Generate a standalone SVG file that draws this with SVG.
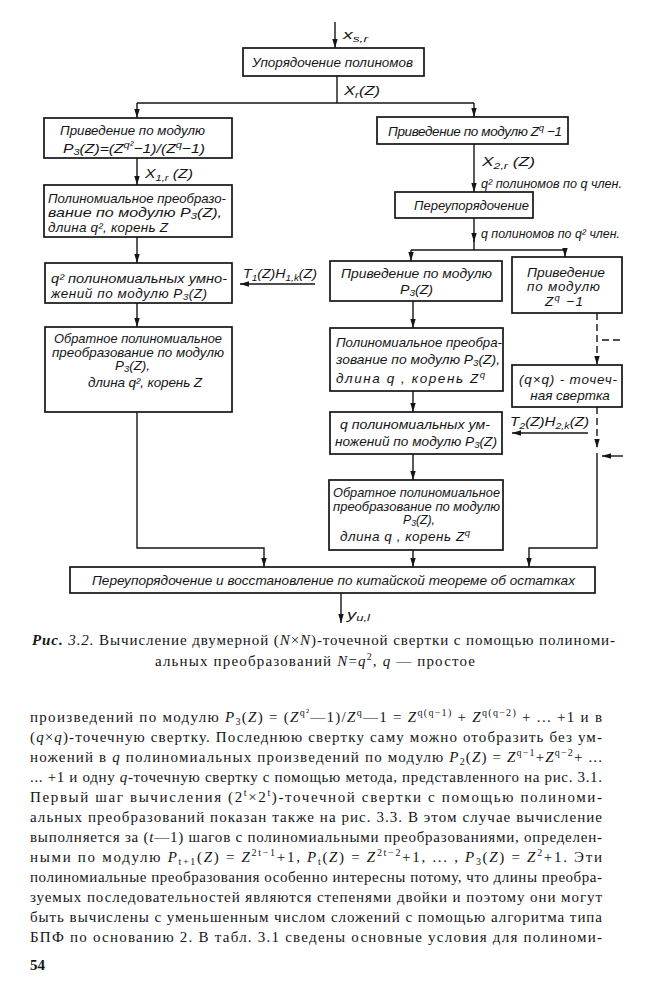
<svg xmlns="http://www.w3.org/2000/svg" width="650" height="1000" viewBox="0 0 650 1000">
<style>
.box{fill:none;stroke:#151515;stroke-width:1.7}
.ln{fill:none;stroke:#151515;stroke-width:1.4}
.dl{fill:none;stroke:#151515;stroke-width:1.4;stroke-dasharray:7 4}
.t{font-family:"Liberation Sans",sans-serif;font-style:italic;font-size:13.5px;fill:#151515}
.b{font-family:"Liberation Serif",serif;font-size:15px;fill:#151515}
.s{font-size:9.5px}
.bs{font-size:10px}
</style>
<defs>
<marker id="ah" viewBox="0 0 10 6" refX="10" refY="3" markerWidth="9" markerHeight="6" orient="auto" markerUnits="userSpaceOnUse"><path d="M0,0 L10,3 L0,6 z" fill="#151515"/></marker>
</defs>
<rect width="650" height="1000" fill="#fff"/>

<g id="connectors">
<line class="ln" x1="335" y1="22" x2="335" y2="48" marker-end="url(#ah)"/>
<line class="ln" x1="337" y1="76" x2="337" y2="103"/>
<line class="ln" x1="137" y1="103" x2="474" y2="103"/>
<line class="ln" x1="137" y1="103" x2="137" y2="118" marker-end="url(#ah)"/>
<line class="ln" x1="474" y1="103" x2="474" y2="117" marker-end="url(#ah)"/>
<line class="ln" x1="137" y1="158" x2="137" y2="185" marker-end="url(#ah)"/>
<line class="ln" x1="137" y1="237" x2="137" y2="263" marker-end="url(#ah)"/>
<line class="ln" x1="137" y1="303" x2="137" y2="327" marker-end="url(#ah)"/>
<line class="ln" x1="315" y1="284" x2="240" y2="284" marker-end="url(#ah)"/>
<polyline class="ln" points="137,412 137,548 264,548 264,567" marker-end="url(#ah)"/>
<line class="ln" x1="474" y1="144" x2="474" y2="192" marker-end="url(#ah)"/>
<line class="ln" x1="474" y1="218" x2="474" y2="242" marker-end="url(#ah)"/>
<line class="ln" x1="474" y1="240" x2="474" y2="250"/>
<line class="ln" x1="411" y1="250" x2="565" y2="250"/>
<line class="ln" x1="411" y1="250" x2="411" y2="261" marker-end="url(#ah)"/>
<line class="ln" x1="565" y1="250" x2="565" y2="257" marker-end="url(#ah)"/>
<line class="ln" x1="413" y1="301" x2="413" y2="328" marker-end="url(#ah)"/>
<line class="ln" x1="413" y1="391" x2="413" y2="412" marker-end="url(#ah)"/>
<line class="ln" x1="413" y1="454" x2="413" y2="480" marker-end="url(#ah)"/>
<line class="ln" x1="413" y1="550" x2="413" y2="567" marker-end="url(#ah)"/>
<line class="dl" x1="597" y1="313" x2="597" y2="365" marker-end="url(#ah)"/>
<line class="dl" x1="602" y1="340" x2="622" y2="340"/>
<line class="dl" x1="597" y1="407" x2="597" y2="448" marker-end="url(#ah)"/>
<line class="ln" x1="588" y1="433" x2="512" y2="433" marker-end="url(#ah)"/>
<polyline class="ln" points="597,453 597,548 529,548 529,567" marker-end="url(#ah)"/>
<line class="ln" x1="623" y1="456" x2="602" y2="456" marker-end="url(#ah)"/>
<line class="ln" x1="341" y1="593" x2="341" y2="623" marker-end="url(#ah)"/>
<text class="t" x="343" y="39" font-size="16" textLength="25" lengthAdjust="spacingAndGlyphs">x<tspan class="s" dy="3">s,r</tspan></text>
<text class="t" x="344" y="95" font-size="15" textLength="36" lengthAdjust="spacingAndGlyphs">X<tspan class="s" dy="3">r</tspan><tspan dy="-3">(Z)</tspan></text>
<text class="t" x="145" y="178" font-size="15" textLength="48" lengthAdjust="spacingAndGlyphs">X<tspan class="s" dy="3">1,r</tspan><tspan dy="-3"> (Z)</tspan></text>
<text class="t" x="243" y="278" font-size="14.5" textLength="74" lengthAdjust="spacingAndGlyphs">T<tspan class="s" dy="3">1</tspan><tspan dy="-3">(Z)H</tspan><tspan class="s" dy="3">1,k</tspan><tspan dy="-3">(Z)</tspan></text>
<text class="t" x="482" y="166" font-size="15" textLength="53" lengthAdjust="spacingAndGlyphs">X<tspan class="s" dy="3">2,r</tspan><tspan dy="-3"> (Z)</tspan></text>
<text class="t" x="481" y="188" textLength="141" lengthAdjust="spacingAndGlyphs">q² полиномов по q член.</text>
<text class="t" x="481" y="238" textLength="139" lengthAdjust="spacingAndGlyphs">q полиномов по q² член.</text>
<text class="t" x="510" y="426" font-size="14.5" textLength="79" lengthAdjust="spacingAndGlyphs">T<tspan class="s" dy="3">2</tspan><tspan dy="-3">(Z)H</tspan><tspan class="s" dy="3">2,k</tspan><tspan dy="-3">(Z)</tspan></text>
<text class="t" x="347" y="619" font-size="15" textLength="23" lengthAdjust="spacingAndGlyphs">y<tspan class="s" dy="2">u,l</tspan></text>
</g>

<g id="n_order">
<rect class="box" x="243" y="48" width="181" height="28"/>
<text class="t" x="252" y="67" textLength="161" lengthAdjust="spacingAndGlyphs">Упорядочение полиномов</text>
</g>

<g id="n_L1">
<rect class="box" x="44" y="118" width="188" height="40"/>
<text class="t" x="60" y="135" textLength="145" lengthAdjust="spacingAndGlyphs">Приведение по модулю</text>
<text class="t" x="63" y="153" textLength="142" lengthAdjust="spacingAndGlyphs">P<tspan class="s" dy="2">3</tspan><tspan dy="-2">(Z)=(Z</tspan><tspan class="s" dy="-5">q²</tspan><tspan dy="5">−1)/(Z</tspan><tspan class="s" dy="-5">q</tspan><tspan dy="5">−1)</tspan></text>
</g>

<g id="n_L2">
<rect class="box" x="44" y="185" width="188" height="52"/>
<text class="t" x="48" y="203" textLength="178" lengthAdjust="spacingAndGlyphs">Полиномиальное преобразо-</text>
<text class="t" x="48" y="217" textLength="174" lengthAdjust="spacingAndGlyphs">вание по модулю  P<tspan class="s" dy="2">3</tspan><tspan dy="-2">(Z),</tspan></text>
<text class="t" x="48" y="232" textLength="120" lengthAdjust="spacing">длина q²,  корень Z</text>
</g>

<g id="n_L3">
<rect class="box" x="45" y="263" width="187" height="40"/>
<text class="t" x="51" y="283" textLength="176" lengthAdjust="spacingAndGlyphs">q² полиномиальных умно-</text>
<text class="t" x="51" y="298" textLength="156" lengthAdjust="spacing">жений по модулю    P<tspan class="s" dy="2">3</tspan><tspan dy="-2">(Z)</tspan></text>
</g>

<g id="n_L4">
<rect class="box" x="45" y="327" width="187" height="85"/>
<text class="t" x="54" y="343" textLength="168" lengthAdjust="spacingAndGlyphs">Обратное полиномиальное</text>
<text class="t" x="52" y="357" textLength="172" lengthAdjust="spacingAndGlyphs">преобразование по модулю</text>
<text class="t" x="115" y="370" textLength="35" lengthAdjust="spacingAndGlyphs">P<tspan class="s" dy="2">3</tspan><tspan dy="-2">(Z),</tspan></text>
<text class="t" x="88" y="387" textLength="114" lengthAdjust="spacing">длина q²,  корень Z</text>
</g>

<g id="n_R1">
<rect class="box" x="377" y="117" width="191" height="27"/>
<text class="t" x="388" y="136" textLength="174" lengthAdjust="spacing">Приведение  по модулю Z<tspan class="s" dy="-5">q</tspan><tspan dy="5"> −1</tspan></text>
</g>

<g id="n_R2">
<rect class="box" x="395" y="192" width="138" height="26"/>
<text class="t" x="414" y="210" textLength="115" lengthAdjust="spacingAndGlyphs">Переупорядочение</text>
</g>

<g id="n_M1">
<rect class="box" x="330" y="261" width="172" height="40"/>
<text class="t" x="341" y="278" textLength="151" lengthAdjust="spacingAndGlyphs">Приведение  по модулю</text>
<text class="t" x="400" y="294" textLength="33" lengthAdjust="spacingAndGlyphs">P<tspan class="s" dy="2">3</tspan><tspan dy="-2">(Z)</tspan></text>
</g>

<g id="n_R3">
<rect class="box" x="512" y="257" width="110" height="56"/>
<text class="t" x="527" y="277" textLength="78" lengthAdjust="spacingAndGlyphs">Приведение</text>
<text class="t" x="527" y="291" textLength="73" lengthAdjust="spacing">по  модулю</text>
<text class="t" x="545" y="306" textLength="38" lengthAdjust="spacing">Z<tspan class="s" dy="-5">q</tspan><tspan dy="5"> −1</tspan></text>
</g>

<g id="n_M2">
<rect class="box" x="330" y="328" width="173" height="63"/>
<text class="t" x="336" y="347" textLength="166" lengthAdjust="spacingAndGlyphs">Полиномиальное преобра-</text>
<text class="t" x="336" y="364" textLength="164" lengthAdjust="spacingAndGlyphs">зование по модулю P<tspan class="s" dy="2">3</tspan><tspan dy="-2">(Z),</tspan></text>
<text class="t" x="336" y="383" textLength="149" lengthAdjust="spacing">длина q ,  корень Z<tspan class="s" dy="-5">q</tspan></text>
</g>

<g id="n_R4">
<rect class="box" x="512" y="365" width="110" height="42"/>
<text class="t" x="519" y="384" textLength="98" lengthAdjust="spacing">(q×q) - точеч-</text>
<text class="t" x="570" y="400" text-anchor="middle">ная свертка</text>
</g>

<g id="n_M3">
<rect class="box" x="330" y="412" width="172" height="42"/>
<text class="t" x="340" y="429" textLength="150" lengthAdjust="spacingAndGlyphs">q полиномиальных ум-</text>
<text class="t" x="335" y="446" textLength="162" lengthAdjust="spacingAndGlyphs">ножений по модулю P<tspan class="s" dy="2">3</tspan><tspan dy="-2">(Z)</tspan></text>
</g>

<g id="n_M4">
<rect class="box" x="329" y="480" width="174" height="70"/>
<text class="t" x="333" y="497" textLength="167" lengthAdjust="spacingAndGlyphs">Обратное полиномиальное</text>
<text class="t" x="333" y="511" textLength="167" lengthAdjust="spacingAndGlyphs">преобразование по модулю</text>
<text class="t" x="403" y="524" textLength="32" lengthAdjust="spacingAndGlyphs">P<tspan class="s" dy="2">3</tspan><tspan dy="-2">(Z),</tspan></text>
<text class="t" x="340" y="541" textLength="130" lengthAdjust="spacing">длина  q ,  корень Z<tspan class="s" dy="-5">q</tspan></text>
</g>

<g id="n_B">
<rect class="box" x="70" y="567" width="525" height="26"/>
<text class="t" x="92" y="585" textLength="483" lengthAdjust="spacingAndGlyphs">Переупорядочение  и  восстановление по китайской теореме об остатках</text>
</g>

<g id="caption">
<text class="b" x="32" y="645" textLength="583" lengthAdjust="spacing"><tspan font-weight="bold" font-style="italic">Рис.</tspan> <tspan font-style="italic">3.2.</tspan> Вычисление двумерной (<tspan font-style="italic">N</tspan>×<tspan font-style="italic">N</tspan>)-точечной свертки с помощью полиноми-</text>
<text class="b" x="155" y="666" textLength="320" lengthAdjust="spacing">альных преобразований <tspan font-style="italic">N</tspan>=<tspan font-style="italic">q</tspan><tspan class="bs" dy="-6">2</tspan><tspan dy="6">, </tspan><tspan font-style="italic">q</tspan> — простое</text>
</g>

<g id="body">
<text class="b" x="30" y="722" textLength="572" lengthAdjust="spacing">произведений по модулю <tspan font-style="italic">P</tspan><tspan class="bs" dy="3">3</tspan><tspan dy="-3">(</tspan><tspan font-style="italic">Z</tspan>) = (<tspan font-style="italic">Z</tspan><tspan class="bs" dy="-6">q²</tspan><tspan dy="6">—1)/</tspan><tspan font-style="italic">Z</tspan><tspan class="bs" dy="-6">q</tspan><tspan dy="6">—1 = </tspan><tspan font-style="italic">Z</tspan><tspan class="bs" dy="-6">q(q−1)</tspan><tspan dy="6"> + </tspan><tspan font-style="italic">Z</tspan><tspan class="bs" dy="-6">q(q−2)</tspan><tspan dy="6"> +  ...  +1  и  в</tspan></text>
<text class="b" x="30" y="742" textLength="572" lengthAdjust="spacing">(<tspan font-style="italic">q</tspan>×<tspan font-style="italic">q</tspan>)-точечную свертку. Последнюю свертку саму можно отобразить без ум-</text>
<text class="b" x="30" y="762" textLength="572" lengthAdjust="spacing">ножений в <tspan font-style="italic">q</tspan> полиномиальных произведений по модулю <tspan font-style="italic">P</tspan><tspan class="bs" dy="3">2</tspan><tspan dy="-3">(</tspan><tspan font-style="italic">Z</tspan>) = <tspan font-style="italic">Z</tspan><tspan class="bs" dy="-6">q−1</tspan><tspan dy="6">+</tspan><tspan font-style="italic">Z</tspan><tspan class="bs" dy="-6">q−2</tspan><tspan dy="6">+ ...</tspan></text>
<text class="b" x="30" y="782" textLength="572" lengthAdjust="spacing">... +1 и одну <tspan font-style="italic">q</tspan>-точечную свертку с помощью метода, представленного на рис. 3.1.</text>
<text class="b" x="30" y="802" textLength="572" lengthAdjust="spacing">Первый шаг вычисления (2<tspan class="bs" dy="-6">t</tspan><tspan dy="6">×2</tspan><tspan class="bs" dy="-6">t</tspan><tspan dy="6">)-точечной свертки с помощью полиноми-</tspan></text>
<text class="b" x="30" y="822" textLength="572" lengthAdjust="spacing">альных преобразований показан также на рис. 3.3. В этом случае вычисление</text>
<text class="b" x="30" y="842" textLength="572" lengthAdjust="spacing">выполняется за (<tspan font-style="italic">t</tspan>—1) шагов с полиномиальными преобразованиями, определен-</text>
<text class="b" x="30" y="862" textLength="572" lengthAdjust="spacing">ными  по модулю  <tspan font-style="italic">P</tspan><tspan class="bs" dy="3">t+1</tspan><tspan dy="-3">(</tspan><tspan font-style="italic">Z</tspan>) = <tspan font-style="italic">Z</tspan><tspan class="bs" dy="-6">2t−1</tspan><tspan dy="6">+1,  </tspan><tspan font-style="italic">P</tspan><tspan class="bs" dy="3">t</tspan><tspan dy="-3">(</tspan><tspan font-style="italic">Z</tspan>) = <tspan font-style="italic">Z</tspan><tspan class="bs" dy="-6">2t−2</tspan><tspan dy="6">+1, ... , </tspan><tspan font-style="italic">P</tspan><tspan class="bs" dy="3">3</tspan><tspan dy="-3">(</tspan><tspan font-style="italic">Z</tspan>) = <tspan font-style="italic">Z</tspan><tspan class="bs" dy="-6">2</tspan><tspan dy="6">+1.   Эти</tspan></text>
<text class="b" x="30" y="882" textLength="572" lengthAdjust="spacing">полиномиальные преобразования особенно интересны потому, что длины преобра-</text>
<text class="b" x="30" y="902" textLength="572" lengthAdjust="spacing">зуемых последовательностей являются степенями двойки и поэтому они могут</text>
<text class="b" x="30" y="922" textLength="572" lengthAdjust="spacing">быть вычислены с уменьшенным числом сложений с помощью алгоритма типа</text>
<text class="b" x="30" y="942" textLength="572" lengthAdjust="spacing">БПФ по основанию 2. В табл. 3.1 сведены основные условия для  полиноми-</text>
<text class="b" x="30" y="970" font-weight="bold">54</text>
</g>
</svg>
